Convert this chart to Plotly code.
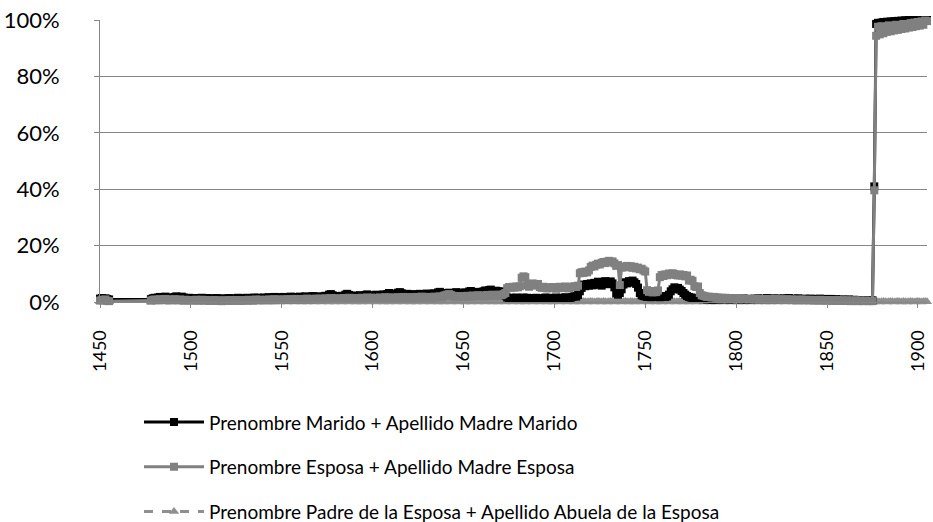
import plotly.graph_objects as go

# Years with data: 1450-1455, then 1478-1905 (gap in between)
years = list(range(1450, 1456)) + list(range(1478, 1906))

# Prenombre Marido + Apellido Madre Marido (percent)
marido = [
    1.2, 1.4, 1.0, 1.3, 1.1, 0.9,                       # 1450-1455
    1.0, 1.3,                                           # 1478-1479
    1.5, 1.2, 1.6, 1.8, 1.4, 1.7, 1.9, 1.5, 1.3, 1.6,   # 1480
    1.4, 1.8, 2.0, 1.7, 1.5, 1.9, 1.6, 1.4, 1.2, 1.5,   # 1490
    1.3, 1.1, 1.4, 1.2, 1.0, 1.3, 1.5, 1.2, 1.1, 1.4,   # 1500
    1.2, 1.0, 1.3, 1.1, 1.4, 1.2, 0.9, 1.1, 1.3, 1.0,   # 1510
    1.2, 1.4, 1.1, 1.3, 1.0, 1.2, 1.5, 1.3, 1.1, 1.4,   # 1520
    1.2, 1.5, 1.3, 1.1, 1.4, 1.6, 1.3, 1.5, 1.2, 1.4,   # 1530
    1.6, 1.3, 1.5, 1.7, 1.4, 1.6, 1.8, 1.5, 1.3, 1.7,   # 1540
    1.5, 1.8, 1.6, 1.4, 1.7, 1.9, 1.6, 1.8, 1.5, 1.7,   # 1550
    1.9, 1.6, 1.8, 2.0, 1.7, 1.5, 1.8, 2.1, 1.9, 1.6,   # 1560
    1.8, 2.0, 1.7, 1.9, 2.2, 1.8, 2.6, 2.8, 2.4, 2.0,   # 1570
    1.8, 2.1, 1.9, 2.2, 2.0, 2.6, 2.9, 2.5, 2.2, 2.0,   # 1580
    2.3, 2.1, 1.9, 2.4, 2.2, 2.0, 2.5, 2.7, 2.3, 2.1,   # 1590
    2.4, 2.2, 2.6, 2.3, 2.1, 2.5, 2.7, 2.4, 2.8, 3.2,   # 1600
    3.0, 2.6, 2.4, 2.8, 3.3, 3.5, 3.1, 2.7, 2.5, 2.9,   # 1610
    2.6, 2.4, 2.8, 2.5, 2.3, 2.7, 2.9, 2.6, 2.4, 2.8,   # 1620
    3.0, 2.7, 2.5, 2.9, 3.1, 2.8, 3.4, 3.6, 3.2, 2.9,   # 1630
    3.1, 2.8, 3.3, 3.0, 2.7, 3.2, 3.5, 3.1, 2.9, 3.3,   # 1640
    3.0, 3.4, 3.1, 3.7, 3.9, 3.5, 3.2, 3.6, 3.3, 3.0,   # 1650
    3.5, 3.8, 4.1, 3.7, 4.2, 4.4, 3.9, 3.6, 4.0, 3.7,   # 1660
    3.4, 3.8, 3.5, 2.2, 1.6, 1.3, 1.5, 1.2, 1.4, 1.6,   # 1670
    1.3, 1.1, 1.4, 1.6, 1.2, 1.5, 1.3, 1.1, 1.4, 1.2,   # 1680
    1.5, 1.3, 1.1, 1.4, 1.2, 1.6, 1.3, 1.5, 1.2, 1.4,   # 1690
    1.3, 1.6, 1.4, 1.2, 1.5, 1.3, 1.7, 1.4, 1.2, 1.5,   # 1700
    1.8, 2.2, 1.9, 2.5, 3.8, 5.0, 6.2, 5.6, 6.4, 5.8,   # 1710
    6.6, 5.9, 6.8, 6.1, 7.2, 6.5, 5.8, 6.9, 7.4, 6.3,   # 1720
    6.8, 7.3, 6.6, 5.2, 3.0, 2.6, 3.2, 4.5, 6.2, 7.0,   # 1730
    6.6, 7.4, 6.9, 7.6, 7.0, 6.4, 5.1, 3.2, 2.4, 2.1,   # 1740
    2.0, 1.8, 2.1, 1.7, 1.9, 2.2, 1.8, 2.0, 1.7, 1.9,   # 1750
    2.1, 1.8, 2.0, 2.6, 3.8, 4.5, 5.2, 4.8, 5.0, 4.4,   # 1760
    3.9, 3.2, 2.6, 2.1, 1.8, 1.6, 1.4, 1.5, 1.3, 1.4,   # 1770
    1.3, 1.1, 1.0, 1.2, 0.9, 1.1, 1.0, 0.8, 1.0, 1.2,   # 1780
    1.1, 0.9, 1.0, 1.2, 1.4, 1.1, 0.9, 1.0, 1.3, 1.1,   # 1790
    1.0, 1.2, 0.9, 1.1, 1.3, 1.0, 0.8, 1.1, 0.9, 1.0,   # 1800
    1.2, 1.0, 1.3, 1.1, 0.9, 1.2, 1.0, 1.4, 1.1, 0.9,   # 1810
    1.1, 1.3, 1.0, 1.2, 0.9, 1.1, 1.3, 1.0, 1.2, 1.4,   # 1820
    1.1, 0.9, 1.2, 1.0, 1.3, 1.1, 0.8, 1.0, 1.2, 0.9,   # 1830
    1.0, 1.2, 0.9, 1.1, 0.8, 1.0, 1.2, 0.9, 1.1, 0.8,   # 1840
    1.0, 0.8, 1.1, 0.9, 0.7, 1.0, 0.8, 0.6, 0.9, 0.7,   # 1850
    0.8, 0.6, 0.9, 0.7, 0.5, 0.8, 0.6, 0.7, 0.5, 0.6,   # 1860
    0.4, 0.6, 0.5, 0.4, 0.5, 0.6, 41.0, 98.6, 99.0, 98.8,   # 1870
    99.1, 99.3, 99.0, 99.4, 99.2, 99.5, 99.3, 99.6, 99.4, 99.7,  # 1880
    99.5, 99.8, 99.6, 99.9, 99.7, 100.0, 99.8, 99.9, 100.0, 99.8,  # 1890
    100.0, 99.9, 100.0, 100.0, 100.0, 100.0,            # 1900-1905
]

# Prenombre Esposa + Apellido Madre Esposa (percent)
esposa = [
    0.5, 0.8, 0.6, 0.9, 0.4, 0.3,                       # 1450-1455
    0.5, 0.7,                                           # 1478-1479
    0.9, 0.6, 0.8, 1.0, 0.7, 0.9, 1.1, 0.8, 0.6, 0.9,   # 1480
    0.7, 1.0, 0.8, 0.6, 0.9, 0.7, 0.5, 0.8, 0.6, 0.7,   # 1490
    0.5, 0.7, 0.6, 0.8, 0.5, 0.6, 0.8, 0.5, 0.7, 0.6,   # 1500
    0.4, 0.6, 0.5, 0.7, 0.4, 0.6, 0.5, 0.3, 0.5, 0.6,   # 1510
    0.5, 0.7, 0.4, 0.6, 0.5, 0.7, 0.6, 0.4, 0.6, 0.5,   # 1520
    0.7, 0.5, 0.8, 0.6, 0.5, 0.7, 0.9, 0.6, 0.8, 0.7,   # 1530
    0.6, 0.8, 0.7, 0.9, 0.6, 0.8, 1.0, 0.7, 0.9, 0.8,   # 1540
    0.7, 0.9, 0.8, 1.0, 0.7, 0.9, 0.8, 1.1, 0.9, 0.8,   # 1550
    1.0, 0.8, 1.1, 0.9, 1.2, 1.0, 0.8, 1.1, 0.9, 1.2,   # 1560
    1.0, 1.2, 0.9, 1.1, 1.3, 1.0, 1.2, 1.4, 1.1, 1.3,   # 1570
    1.1, 1.3, 1.0, 1.2, 1.4, 1.1, 1.3, 1.5, 1.2, 1.4,   # 1580
    1.2, 1.4, 1.1, 1.3, 1.5, 1.2, 1.4, 1.6, 1.3, 1.5,   # 1590
    1.3, 1.5, 1.2, 1.4, 1.6, 1.3, 1.5, 1.7, 1.4, 1.6,   # 1600
    1.4, 1.6, 1.3, 1.5, 1.7, 1.4, 1.6, 1.8, 1.5, 1.7,   # 1610
    1.5, 1.7, 1.4, 1.6, 1.8, 1.5, 1.7, 1.9, 1.6, 1.8,   # 1620
    1.6, 1.8, 1.5, 1.7, 1.9, 1.6, 1.8, 2.0, 1.7, 2.2,   # 1630
    2.4, 2.6, 2.8, 2.5, 2.2, 1.9, 1.7, 1.9, 2.1, 1.8,   # 1640
    2.0, 1.8, 2.2, 1.9, 2.1, 2.3, 2.0, 2.2, 2.4, 2.1,   # 1650
    2.3, 2.0, 2.2, 2.5, 2.1, 2.4, 2.6, 2.3, 2.5, 2.2,   # 1660
    2.6, 2.4, 2.8, 3.2, 4.9, 5.3, 5.0, 5.4, 5.1, 5.5,   # 1670
    5.2, 5.6, 8.6, 9.1, 8.8, 5.9, 5.4, 6.3, 6.6, 6.2,   # 1680
    5.8, 6.4, 5.3, 5.0, 5.4, 5.1, 4.8, 5.2, 4.9, 5.3,   # 1690
    5.0, 4.7, 5.1, 5.4, 4.9, 5.2, 5.5, 5.1, 4.8, 5.2,   # 1700
    5.4, 5.6, 5.3, 5.8, 10.2, 10.6, 10.3, 10.8, 10.5, 11.2,  # 1710
    12.4, 12.9, 12.6, 13.2, 13.6, 13.3, 13.9, 14.2, 13.8, 14.3,  # 1720
    14.6, 14.1, 14.4, 13.7, 12.8, 13.1, 6.0, 12.2, 12.6, 12.3,   # 1730
    12.8, 12.4, 12.7, 12.1, 12.5, 11.9, 12.2, 11.6, 11.8, 11.2,  # 1740
    10.8, 4.2, 3.6, 3.9, 3.4, 3.8, 3.5, 4.1, 8.8, 9.6,  # 1750
    9.2, 9.8, 9.5, 10.1, 9.7, 10.2, 9.9, 9.6, 9.4, 9.8,  # 1760
    9.3, 9.6, 9.1, 9.4, 7.6, 7.9, 7.5, 5.6, 5.3, 5.5,   # 1770
    3.2, 2.4, 2.2, 2.0, 1.8, 1.9, 1.7, 1.6, 1.8, 1.5,   # 1780
    1.6, 1.4, 1.5, 1.3, 1.5, 1.2, 1.4, 1.3, 1.1, 1.3,   # 1790
    1.2, 1.4, 1.1, 1.3, 1.0, 1.2, 1.1, 0.9, 1.1, 1.0,   # 1800
    1.2, 0.9, 1.1, 1.0, 0.8, 1.0, 0.9, 1.1, 0.8, 1.0,   # 1810
    0.9, 1.1, 0.8, 1.0, 0.9, 0.7, 0.9, 0.8, 1.0, 0.8,   # 1820
    0.7, 0.9, 0.8, 0.6, 0.8, 0.7, 0.9, 0.6, 0.8, 0.7,   # 1830
    0.6, 0.8, 0.7, 0.5, 0.7, 0.6, 0.8, 0.5, 0.7, 0.6,   # 1840
    0.5, 0.7, 0.6, 0.4, 0.6, 0.5, 0.7, 0.4, 0.6, 0.5,   # 1850
    0.4, 0.6, 0.5, 0.3, 0.5, 0.4, 0.6, 0.3, 0.5, 0.4,   # 1860
    0.3, 0.5, 0.4, 0.3, 0.4, 0.3, 39.6, 94.4, 97.6, 94.9,   # 1870
    97.8, 95.3, 97.4, 95.8, 98.1, 96.0, 97.7, 96.3, 98.3, 96.5,  # 1880
    98.0, 96.8, 98.6, 97.0, 98.4, 97.3, 98.9, 97.5, 99.1, 97.8,  # 1890
    99.3, 98.0, 99.5, 98.3, 99.8, 99.6,                 # 1900-1905
]

# Prenombre Padre de la Esposa + Apellido Abuela de la Esposa (percent)
padre_abuela = [
    0.1, 0.2, 0.0, 0.1, 0.2, 0.1,                       # 1450-1455
    0.0, 0.1,                                           # 1478-1479
    0.2, 0.1, 0.0, 0.1, 0.2, 0.1, 0.0, 0.2, 0.1, 0.0,   # 1480
    0.1, 0.2, 0.1, 0.0, 0.1, 0.2, 0.1, 0.0, 0.1, 0.2,   # 1490
    0.1, 0.0, 0.2, 0.1, 0.0, 0.1, 0.2, 0.1, 0.0, 0.1,   # 1500
    0.2, 0.1, 0.0, 0.1, 0.2, 0.1, 0.0, 0.2, 0.1, 0.0,   # 1510
    0.1, 0.2, 0.1, 0.0, 0.1, 0.2, 0.1, 0.0, 0.1, 0.2,   # 1520
    0.1, 0.0, 0.2, 0.1, 0.0, 0.1, 0.2, 0.1, 0.0, 0.1,   # 1530
    0.2, 0.1, 0.0, 0.1, 0.2, 0.1, 0.0, 0.2, 0.1, 0.0,   # 1540
    0.1, 0.2, 0.1, 0.0, 0.1, 0.2, 0.1, 0.0, 0.1, 0.2,   # 1550
    0.1, 0.0, 0.2, 0.1, 0.0, 0.1, 0.2, 0.1, 0.0, 0.1,   # 1560
    0.2, 0.1, 0.0, 0.1, 0.2, 0.1, 0.0, 0.2, 0.1, 0.0,   # 1570
    0.1, 0.2, 0.1, 0.0, 0.1, 0.2, 0.1, 0.0, 0.1, 0.2,   # 1580
    0.1, 0.0, 0.2, 0.1, 0.0, 0.1, 0.2, 0.1, 0.0, 0.1,   # 1590
    0.2, 0.1, 0.0, 0.1, 0.2, 0.1, 0.0, 0.2, 0.1, 0.0,   # 1600
    0.1, 0.2, 0.1, 0.0, 0.1, 0.2, 0.1, 0.0, 0.1, 0.2,   # 1610
    0.1, 0.0, 0.2, 0.1, 0.0, 0.1, 0.2, 0.1, 0.0, 0.1,   # 1620
    0.2, 0.1, 0.0, 0.1, 0.2, 0.1, 0.0, 0.2, 0.1, 0.0,   # 1630
    0.1, 0.2, 0.1, 0.0, 0.1, 0.2, 0.1, 0.0, 0.1, 0.2,   # 1640
    0.1, 0.0, 0.2, 0.1, 0.0, 0.1, 0.2, 0.1, 0.0, 0.1,   # 1650
    0.2, 0.1, 0.0, 0.1, 0.2, 0.1, 0.0, 0.2, 0.1, 0.0,   # 1660
    0.1, 0.2, 0.1, 0.0, 0.1, 0.2, 0.1, 0.0, 0.1, 0.2,   # 1670
    0.1, 0.0, 0.2, 0.1, 0.0, 0.1, 0.2, 0.1, 0.0, 0.1,   # 1680
    0.2, 0.1, 0.0, 0.1, 0.2, 0.1, 0.0, 0.2, 0.1, 0.0,   # 1690
    0.1, 0.2, 0.1, 0.0, 0.1, 0.2, 0.1, 0.0, 0.1, 0.2,   # 1700
    0.1, 0.0, 0.2, 0.1, 0.0, 0.1, 0.2, 0.1, 0.0, 0.1,   # 1710
    0.2, 0.1, 0.0, 0.1, 0.2, 0.1, 0.0, 0.2, 0.1, 0.0,   # 1720
    0.1, 0.2, 0.1, 0.0, 0.1, 0.2, 0.1, 0.0, 0.1, 0.2,   # 1730
    0.1, 0.0, 0.2, 0.1, 0.0, 0.1, 0.2, 0.1, 0.0, 0.1,   # 1740
    0.2, 0.1, 0.0, 0.1, 0.2, 0.1, 0.0, 0.2, 0.1, 0.0,   # 1750
    0.1, 0.2, 0.1, 0.0, 0.1, 0.2, 0.1, 0.0, 0.1, 0.2,   # 1760
    0.1, 0.0, 0.2, 0.1, 0.0, 0.1, 0.2, 0.1, 0.0, 0.1,   # 1770
    0.2, 0.1, 0.0, 0.1, 0.2, 0.1, 0.0, 0.2, 0.1, 0.0,   # 1780
    0.1, 0.2, 0.1, 0.0, 0.1, 0.2, 0.1, 0.0, 0.1, 0.2,   # 1790
    0.1, 0.0, 0.2, 0.1, 0.0, 0.1, 0.2, 0.1, 0.0, 0.1,   # 1800
    0.2, 0.1, 0.0, 0.1, 0.2, 0.1, 0.0, 0.2, 0.1, 0.0,   # 1810
    0.1, 0.2, 0.1, 0.0, 0.1, 0.2, 0.1, 0.0, 0.1, 0.2,   # 1820
    0.1, 0.0, 0.2, 0.1, 0.0, 0.1, 0.2, 0.1, 0.0, 0.1,   # 1830
    0.2, 0.1, 0.0, 0.1, 0.2, 0.1, 0.0, 0.2, 0.1, 0.0,   # 1840
    0.1, 0.2, 0.1, 0.0, 0.1, 0.2, 0.1, 0.0, 0.1, 0.2,   # 1850
    0.1, 0.0, 0.2, 0.1, 0.0, 0.1, 0.2, 0.1, 0.0, 0.1,   # 1860
    0.2, 0.1, 0.0, 0.1, 0.2, 0.1, 0.0, 0.2, 0.1, 0.0,   # 1870
    0.1, 0.2, 0.1, 0.0, 0.1, 0.2, 0.1, 0.0, 0.1, 0.2,   # 1880
    0.1, 0.0, 0.2, 0.1, 0.0, 0.1, 0.2, 0.1, 0.0, 0.1,   # 1890
    0.2, 0.1, 0.0, 0.1, 0.2, 0.1,                       # 1900-1905
]

series_names = [
    "Prenombre Marido + Apellido Madre Marido",
    "Prenombre Esposa + Apellido Madre Esposa",
    "Prenombre Padre de la Esposa + Apellido Abuela de la Esposa",
]
x_ticks = [1450, 1500, 1550, 1600, 1650, 1700, 1750, 1800, 1850, 1900]
y_ticks = [0, 20, 40, 60, 80, 100]

FONT = "Lato, 'Open Sans', sans-serif"

fig = go.Figure()

# third series drawn first (underneath)
fig.add_trace(go.Scatter(
    x=years, y=padre_abuela, name=series_names[2], mode="lines+markers",
    line=dict(color="#8f8f8f", width=3, dash="dash"),
    marker=dict(symbol="triangle-up", size=9, color="#8f8f8f"),
    legendgroup="c", legendrank=3, cliponaxis=False,
))
fig.add_trace(go.Scatter(
    x=years, y=marido, name=series_names[0], mode="lines+markers",
    line=dict(color="#000000", width=3),
    marker=dict(symbol="square", size=8, color="#000000"),
    legendgroup="a", legendrank=1, cliponaxis=False,
))
fig.add_trace(go.Scatter(
    x=years, y=esposa, name=series_names[1], mode="lines+markers",
    line=dict(color="#808080", width=3),
    marker=dict(symbol="square", size=8, color="#808080"),
    legendgroup="b", legendrank=2, cliponaxis=False,
))

fig.update_layout(
    width=933, height=522,
    margin=dict(l=100, r=6, t=20, b=220, autoexpand=False),
    paper_bgcolor="white", plot_bgcolor="white",
    font=dict(family=FONT, color="#000000"),
    showlegend=True,
    legend=dict(
        xref="container", yref="container",
        x=0.149, y=0.2275, xanchor="left", yanchor="top",
        font=dict(size=19, family=FONT),
        itemwidth=60, traceorder="grouped", tracegroupgap=17,
        bgcolor="rgba(0,0,0,0)",
    ),
)
fig.update_xaxes(
    range=[1450, 1905], tickmode="array", tickvals=x_ticks,
    ticktext=[str(v) for v in x_ticks], tickangle=-90,
    tickfont=dict(size=18, family=FONT), ticklabelstandoff=15,
    showgrid=False, zeroline=False, showline=True, linecolor="#868686",
    linewidth=1, ticks="outside", ticklen=5, tickcolor="#868686",
)
fig.update_yaxes(
    range=[0, 100], tickmode="array", tickvals=y_ticks,
    ticktext=[f"{v}%" for v in y_ticks],
    tickfont=dict(size=22, family=FONT), ticklabelstandoff=30,
    showgrid=True, gridcolor="#868686", gridwidth=1, zeroline=False,
    showline=True, linecolor="#868686", linewidth=1,
    ticks="outside", ticklen=5, tickcolor="#868686",
)

fig.write_html(
    "out.html",
    config={"displayModeBar": False},
    post_script="document.body.style.margin='0';document.body.style.overflow='hidden';",
)
